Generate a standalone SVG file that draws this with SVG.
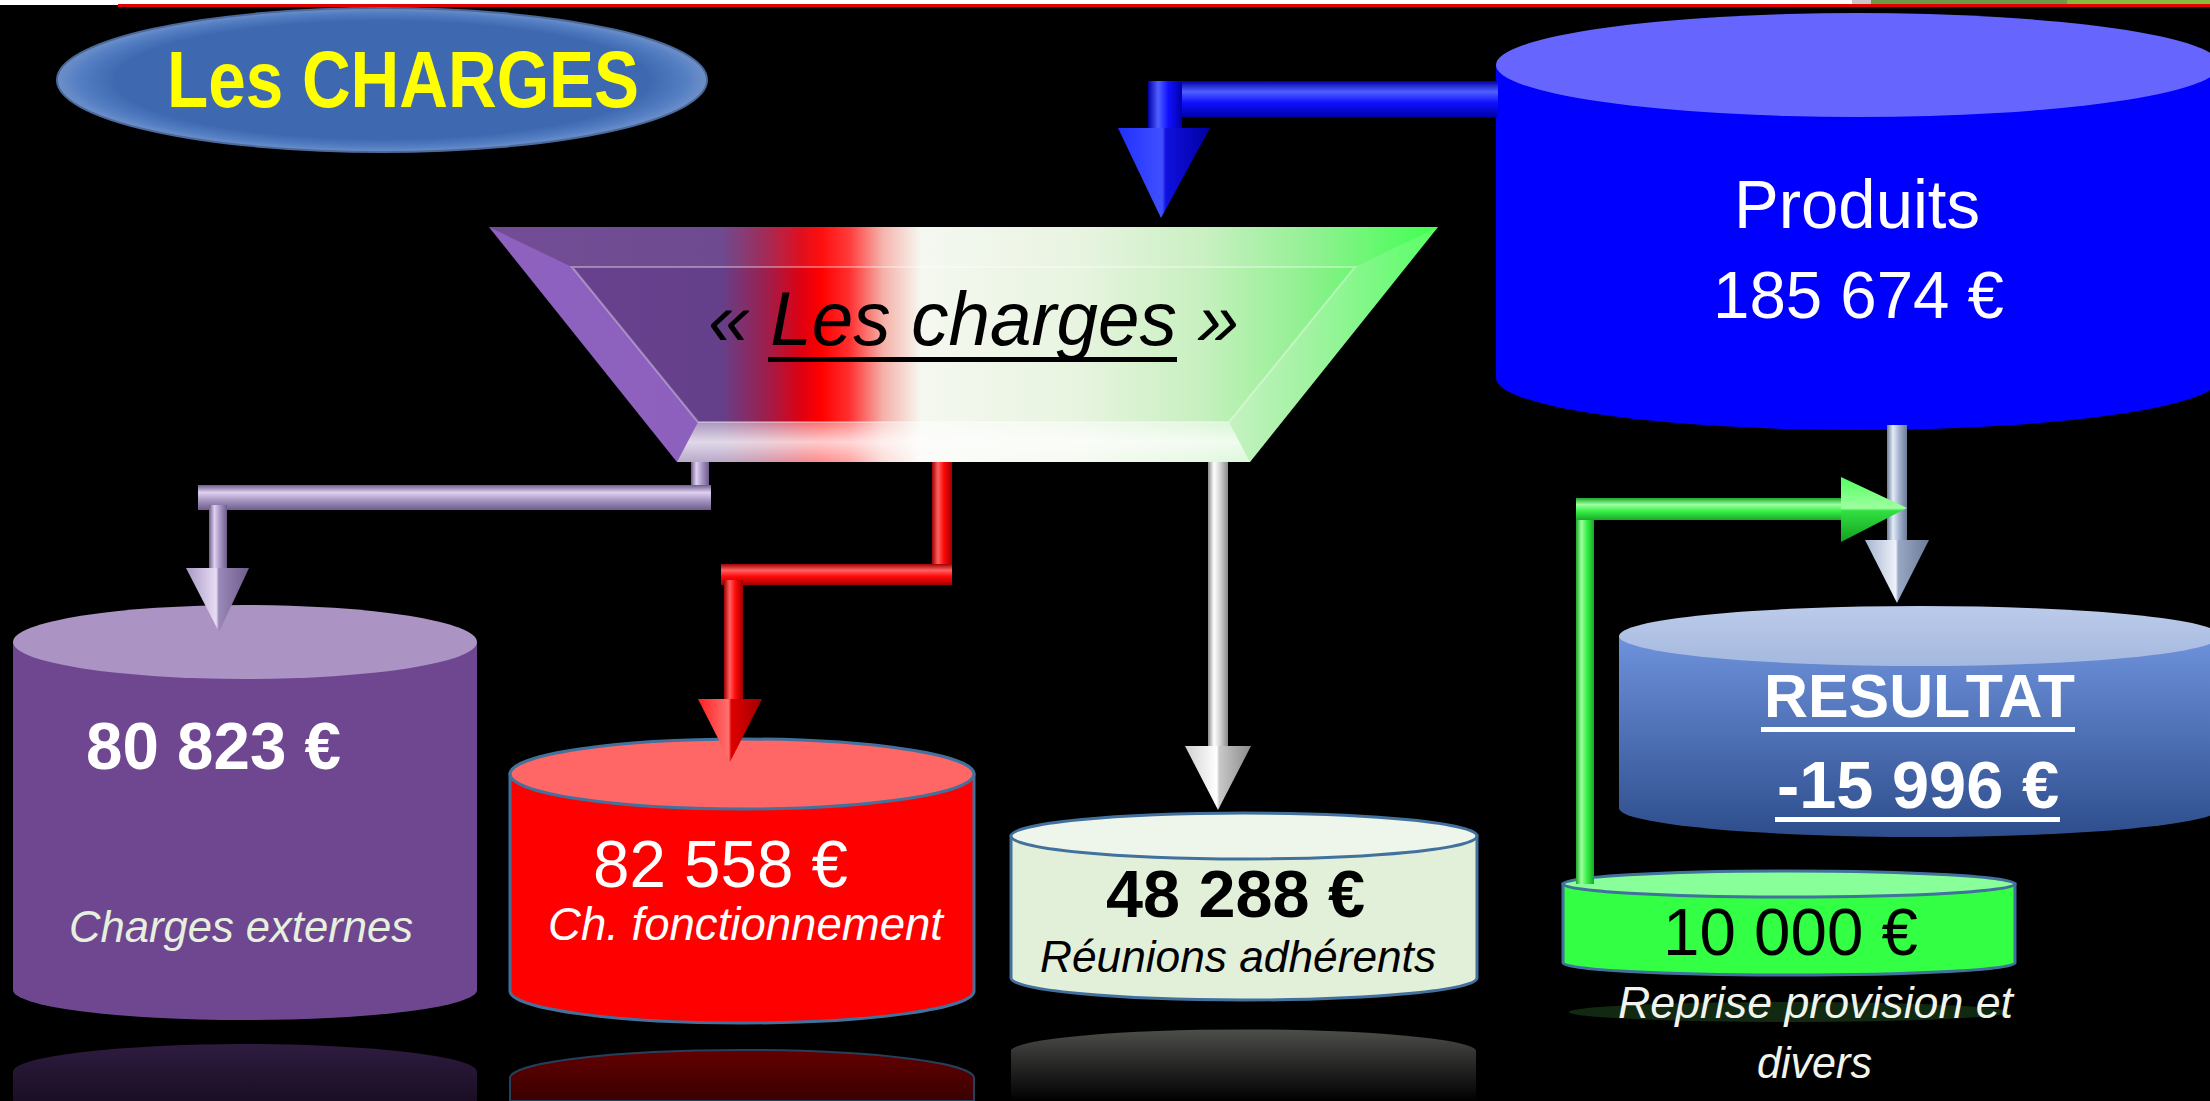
<svg xmlns="http://www.w3.org/2000/svg" width="2210" height="1101" viewBox="0 0 2210 1101">
<style>
.t{font-family:"Liberation Sans",Arial,sans-serif}
.b{font-weight:bold}
.i{font-style:italic}
.w{fill:#ffffff}
.k{fill:#000000}
.cs{stroke:#41719c;stroke-width:3}
</style>
<defs>
<linearGradient id="funnel" gradientUnits="userSpaceOnUse" x1="489" y1="0" x2="1438" y2="0">
<stop offset="0" stop-color="#6a4290"/>
<stop offset="0.245" stop-color="#65408a"/>
<stop offset="0.29" stop-color="#9a2050"/>
<stop offset="0.33" stop-color="#e00010"/>
<stop offset="0.35" stop-color="#ff0000"/>
<stop offset="0.38" stop-color="#ff3030"/>
<stop offset="0.415" stop-color="#f5b0a8"/>
<stop offset="0.455" stop-color="#f5f8f0"/>
<stop offset="0.62" stop-color="#e8f4e0"/>
<stop offset="0.75" stop-color="#c8f0c0"/>
<stop offset="0.86" stop-color="#90f090"/>
<stop offset="1" stop-color="#33ff44"/>
</linearGradient>
<radialGradient id="title" cx="0.5" cy="0.5" r="0.5">
<stop offset="0.82" stop-color="#3e68b0"/>
<stop offset="0.94" stop-color="#5680c4"/>
<stop offset="1" stop-color="#6f90c8"/>
</radialGradient>
<linearGradient id="resBody" x1="0" y1="0" x2="0" y2="1">
<stop offset="0" stop-color="#6e92dc"/>
<stop offset="1" stop-color="#2d4d8c"/>
</linearGradient>
<linearGradient id="resTop" x1="0" y1="0" x2="0" y2="1">
<stop offset="0" stop-color="#bccbea"/>
<stop offset="1" stop-color="#a4b8de"/>
</linearGradient>
<linearGradient id="refP" x1="0" y1="0" x2="0" y2="1"><stop offset="0" stop-color="#2e1c40"/><stop offset="1" stop-color="#1a0e24"/></linearGradient>
<linearGradient id="refR" x1="0" y1="0" x2="0" y2="1"><stop offset="0" stop-color="#640000"/><stop offset="1" stop-color="#3a0000"/></linearGradient>
<linearGradient id="refW" x1="0" y1="0" x2="0" y2="1"><stop offset="0" stop-color="#4c4e4a"/><stop offset="1" stop-color="#000000"/></linearGradient>
<linearGradient id="bevB" x1="0" y1="0" x2="0" y2="1"><stop offset="0" stop-color="#ffffff" stop-opacity="0.45"/><stop offset="0.5" stop-color="#ffffff" stop-opacity="0.8"/><stop offset="1" stop-color="#ffffff" stop-opacity="0.55"/></linearGradient>
<linearGradient id="pV" x1="0" y1="0" x2="1" y2="0"><stop offset="0" stop-color="#6e5c8c"/><stop offset="0.3" stop-color="#e0d0f0"/><stop offset="0.6" stop-color="#a898c4"/><stop offset="1" stop-color="#6e5c8c"/></linearGradient>
<linearGradient id="pH" x1="0" y1="0" x2="0" y2="1"><stop offset="0" stop-color="#6e5c8c"/><stop offset="0.3" stop-color="#e0d0f0"/><stop offset="0.6" stop-color="#a898c4"/><stop offset="1" stop-color="#6e5c8c"/></linearGradient>
<linearGradient id="rV" x1="0" y1="0" x2="1" y2="0"><stop offset="0" stop-color="#a00000"/><stop offset="0.3" stop-color="#ff6060"/><stop offset="0.6" stop-color="#ff0808"/><stop offset="1" stop-color="#a00000"/></linearGradient>
<linearGradient id="rH" x1="0" y1="0" x2="0" y2="1"><stop offset="0" stop-color="#a00000"/><stop offset="0.3" stop-color="#ff6060"/><stop offset="0.6" stop-color="#ff0808"/><stop offset="1" stop-color="#a00000"/></linearGradient>
<linearGradient id="wV" x1="0" y1="0" x2="1" y2="0"><stop offset="0" stop-color="#8a8a8a"/><stop offset="0.3" stop-color="#ffffff"/><stop offset="0.6" stop-color="#d4d4d4"/><stop offset="1" stop-color="#8a8a8a"/></linearGradient>
<linearGradient id="bV" x1="0" y1="0" x2="1" y2="0"><stop offset="0" stop-color="#0000a8"/><stop offset="0.3" stop-color="#5060ff"/><stop offset="0.6" stop-color="#1010ff"/><stop offset="1" stop-color="#0000a8"/></linearGradient>
<linearGradient id="bH" x1="0" y1="0" x2="0" y2="1"><stop offset="0" stop-color="#0000a8"/><stop offset="0.3" stop-color="#5060ff"/><stop offset="0.6" stop-color="#1010ff"/><stop offset="1" stop-color="#0000a8"/></linearGradient>
<linearGradient id="gV" x1="0" y1="0" x2="1" y2="0"><stop offset="0" stop-color="#6c7c98"/><stop offset="0.3" stop-color="#e4ecf8"/><stop offset="0.6" stop-color="#a4b4d0"/><stop offset="1" stop-color="#6c7c98"/></linearGradient>
<linearGradient id="nV" x1="0" y1="0" x2="1" y2="0"><stop offset="0" stop-color="#18a828"/><stop offset="0.3" stop-color="#a0ffa0"/><stop offset="0.6" stop-color="#38f048"/><stop offset="1" stop-color="#18a828"/></linearGradient>
<linearGradient id="nH" x1="0" y1="0" x2="0" y2="1"><stop offset="0" stop-color="#18a828"/><stop offset="0.3" stop-color="#a0ffa0"/><stop offset="0.6" stop-color="#38f048"/><stop offset="1" stop-color="#18a828"/></linearGradient>
<linearGradient id="pA" x1="0" y1="0" x2="1" y2="0"><stop offset="0" stop-color="#a898c4"/><stop offset="0.48" stop-color="#e8dcf4"/><stop offset="0.52" stop-color="#9a88b8"/><stop offset="1" stop-color="#6e5c8c"/></linearGradient>
<linearGradient id="rA" x1="0" y1="0" x2="1" y2="0"><stop offset="0" stop-color="#ff2020"/><stop offset="0.48" stop-color="#ff7070"/><stop offset="0.52" stop-color="#e00000"/><stop offset="1" stop-color="#a00000"/></linearGradient>
<linearGradient id="wA" x1="0" y1="0" x2="1" y2="0"><stop offset="0" stop-color="#d0d0d0"/><stop offset="0.48" stop-color="#ffffff"/><stop offset="0.52" stop-color="#c8c8c8"/><stop offset="1" stop-color="#8a8a8a"/></linearGradient>
<linearGradient id="bA" x1="0" y1="0" x2="1" y2="0"><stop offset="0" stop-color="#2030ff"/><stop offset="0.48" stop-color="#4050ff"/><stop offset="0.52" stop-color="#1010e0"/><stop offset="1" stop-color="#0000a0"/></linearGradient>
<linearGradient id="gA" x1="0" y1="0" x2="1" y2="0"><stop offset="0" stop-color="#a4b4d0"/><stop offset="0.48" stop-color="#eef2fa"/><stop offset="0.52" stop-color="#98a8c4"/><stop offset="1" stop-color="#6c7c98"/></linearGradient>
<linearGradient id="nA" x1="0" y1="0" x2="0" y2="1"><stop offset="0" stop-color="#50ff60"/><stop offset="0.48" stop-color="#a0ffa0"/><stop offset="0.52" stop-color="#30e040"/><stop offset="1" stop-color="#14a020"/></linearGradient>
</defs>

<rect x="0" y="0" width="2210" height="1101" fill="#000000"/>
<rect x="0" y="0" width="2210" height="5" fill="#ffffff"/>
<rect x="118" y="4" width="2092" height="3" fill="#e00000"/>
<rect x="1852" y="0" width="19" height="4" fill="#c8c8c8"/>
<rect x="1871" y="0" width="196" height="4" fill="#6e9a48"/>
<rect x="2067" y="0" width="143" height="4" fill="#8ab83a"/>

<path d="M13,1101 V1072 A232,28 0 0 1 477,1072 V1101 Z" fill="url(#refP)"/>
<path d="M510,1101 V1078 A232,28 0 0 1 974,1078 V1101 Z" fill="url(#refR)" stroke="#24405c" stroke-width="2"/>
<path d="M1011,1101 V1050 A233,22 0 0 1 1476,1050 V1101 Z" fill="url(#refW)"/>
<ellipse cx="1789" cy="1012" rx="220" ry="10" fill="#183a18" opacity="0.7"/>

<g id="title-node">
<ellipse cx="382" cy="80" rx="325" ry="72" fill="url(#title)" stroke="#4a6a9c" stroke-width="2"/>
<text class="t b" x="167" y="107" font-size="80" fill="#ffff00" textLength="472" lengthAdjust="spacingAndGlyphs">Les CHARGES</text>
</g>

<g id="produits">
<path d="M1496,65 V378 A362,52 0 0 0 2220,378 V65 Z" fill="#0000ff"/>
<ellipse cx="1858" cy="65" rx="362" ry="52" fill="#6666ff"/>
<text class="t w" x="1734" y="228" font-size="68" textLength="246" lengthAdjust="spacingAndGlyphs">Produits</text>
<text class="t w" x="1713" y="318" font-size="67" textLength="291" lengthAdjust="spacingAndGlyphs">185 674 €</text>
</g>

<g id="charges-externes">
<path d="M13,642 V990 A232,30 0 0 0 477,990 V642 Z" fill="#6f4791"/>
<ellipse cx="245" cy="642" rx="232" ry="37" fill="#ab93c3"/>
<text class="t b w" x="86" y="769" font-size="66" textLength="255" lengthAdjust="spacingAndGlyphs">80 823 €</text>
<text class="t i" x="69" y="942" font-size="45" fill="#e6f0dc" textLength="344" lengthAdjust="spacingAndGlyphs">Charges externes</text>
</g>

<g id="ch-fonctionnement">
<path d="M510,774 V991 A232,32 0 0 0 974,991 V774 Z" fill="#ff0000" class="cs"/>
<ellipse cx="742" cy="774" rx="232" ry="35" fill="#ff6666" class="cs"/>
<text class="t w" x="593" y="887" font-size="66" textLength="255" lengthAdjust="spacingAndGlyphs">82 558 €</text>
<text class="t i w" x="548" y="940" font-size="46" textLength="395" lengthAdjust="spacingAndGlyphs">Ch. fonctionnement</text>
</g>

<g id="reunions-adherents">
<path d="M1011,836 V978 A233,22 0 0 0 1477,978 V836 Z" fill="#e2efd9" class="cs"/>
<ellipse cx="1244" cy="836" rx="233" ry="23" fill="#eef5ea" class="cs"/>
<text class="t b k" x="1106" y="917" font-size="67" textLength="259" lengthAdjust="spacingAndGlyphs">48 288 €</text>
<text class="t i k" x="1040" y="972" font-size="45" textLength="396" lengthAdjust="spacingAndGlyphs">Réunions adhérents</text>
</g>

<g id="reprise-provision">
<path d="M1563,884 V963 A226,12 0 0 0 2015,963 V884 Z" fill="#33ff44" class="cs"/>
<ellipse cx="1789" cy="884" rx="226" ry="13" fill="#88ff99" class="cs"/>
<text class="t k" x="1663" y="955" font-size="66" textLength="255" lengthAdjust="spacingAndGlyphs">10 000 €</text>
<text class="t i" x="1618" y="1018" font-size="45" fill="#f0f4ec" textLength="395" lengthAdjust="spacingAndGlyphs">Reprise provision et</text>
<text class="t i" x="1757" y="1078" font-size="45" fill="#f0f4ec" textLength="115" lengthAdjust="spacingAndGlyphs">divers</text>
</g>

<g id="resultat">
<path d="M1619,636 V808 A301,29 0 0 0 2221,808 V636 Z" fill="url(#resBody)"/>
<ellipse cx="1920" cy="636" rx="301" ry="30" fill="url(#resTop)"/>
<text class="t b w" x="1764" y="717" font-size="62" textLength="311" lengthAdjust="spacingAndGlyphs">RESULTAT</text>
<rect x="1761" y="727" width="314" height="5" fill="#ffffff"/>
<text class="t b w" x="1777" y="808" font-size="67" textLength="282" lengthAdjust="spacingAndGlyphs">-15 996 €</text>
<rect x="1775" y="817" width="285" height="5" fill="#ffffff"/>
</g>

<g id="connectors">
<rect x="1148" y="81" width="350" height="36" fill="url(#bH)"/>
<rect x="1148" y="81" width="34" height="50" fill="url(#bV)"/>
<polygon points="1118,128 1210,128 1161,218" fill="url(#bA)"/>
<rect x="691" y="462" width="18" height="40" fill="url(#pV)"/>
<rect x="198" y="485" width="513" height="25" fill="url(#pH)"/>
<rect x="209" y="505" width="18" height="66" fill="url(#pV)"/>
<polygon points="186,568 249,568 219,632" fill="url(#pA)"/>
<rect x="932" y="462" width="20" height="123" fill="url(#rV)"/>
<rect x="721" y="564" width="231" height="21" fill="url(#rH)"/>
<rect x="724" y="580" width="19" height="122" fill="url(#rV)"/>
<polygon points="698,699 762,699 730,762" fill="url(#rA)"/>
<rect x="1208" y="462" width="20" height="288" fill="url(#wV)"/>
<polygon points="1185,746 1251,746 1218,810" fill="url(#wA)"/>
<rect x="1887" y="425" width="20" height="120" fill="url(#gV)"/>
<polygon points="1865,540 1929,540 1897,603" fill="url(#gA)"/>
<rect x="1576" y="498" width="18" height="386" fill="url(#nV)"/>
<rect x="1576" y="498" width="268" height="22" fill="url(#nH)"/>
<polygon points="1841,477 1841,542 1907,508" fill="url(#nA)"/>
</g>

<g id="funnel-node">
<polygon points="489,227 1438,227 1250,462 677,462" fill="url(#funnel)"/>
<polygon points="489,227 572,267 698,422 677,462" fill="#a676e0" opacity="0.6"/>
<polygon points="489,227 1438,227 1355,267 572,267" fill="#ffffff" opacity="0.06"/>
<polygon points="1438,227 1355,267 1229,422 1250,462" fill="#ffffff" opacity="0.18"/>
<polygon points="677,462 698,422 1229,422 1250,462" fill="url(#bevB)"/>
<polygon points="572,267 1355,267 1229,422 698,422" fill="none" stroke="#ffffff" stroke-opacity="0.35" stroke-width="2"/>
<text class="t i k" x="708" y="345" font-size="76" textLength="531" lengthAdjust="spacingAndGlyphs">« Les charges »</text>
<rect x="768" y="357" width="409" height="5" fill="#000000"/>
</g>
</svg>
